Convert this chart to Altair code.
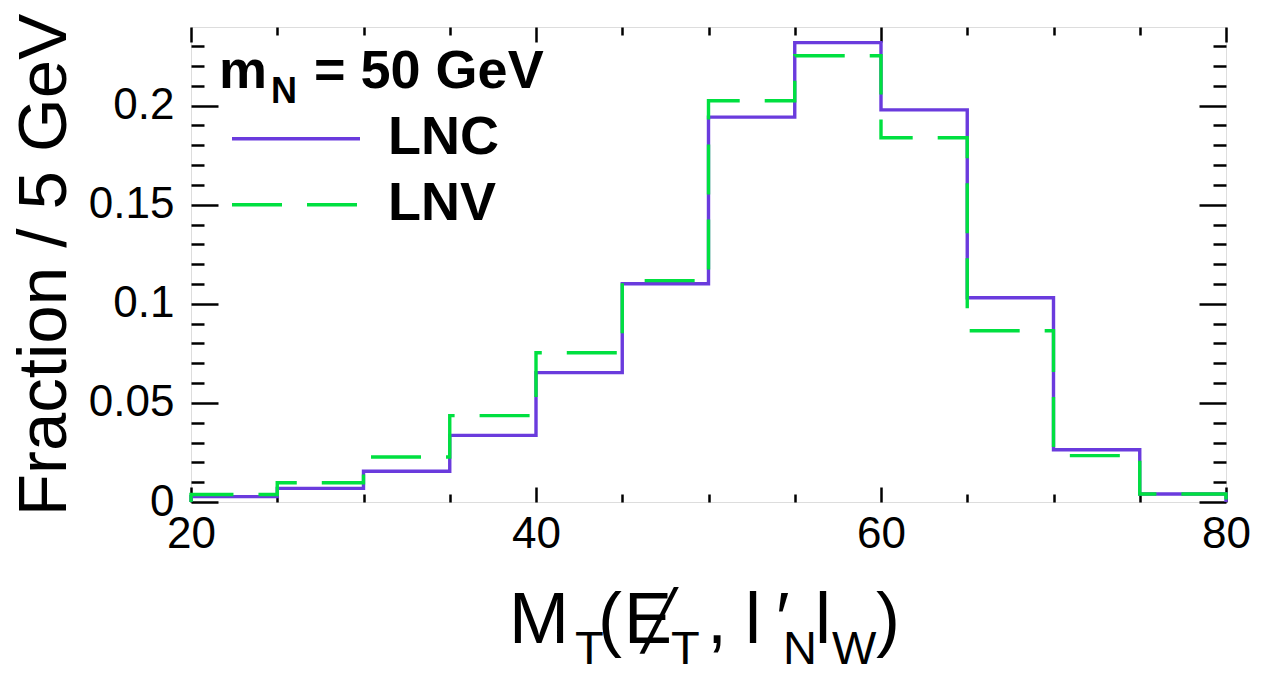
import altair as alt
import pandas as pd

# ---------------- data ----------------
bin_lo = [20, 25, 30, 35, 40, 45, 50, 55, 60, 65, 70, 75]
bin_width = 5
lnc = [0.0027, 0.0069, 0.0155, 0.0336, 0.0653, 0.1101, 0.1942, 0.2318, 0.1979, 0.1031, 0.0264, 0.0040]
lnv = [0.0038, 0.0097, 0.0227, 0.0436, 0.0753, 0.1117, 0.2025, 0.2252, 0.1838, 0.0864, 0.0234, 0.0040]

x_major = [20, 40, 60, 80]
x_minor = [25, 30, 35, 45, 50, 55, 65, 70, 75]
y_major = [0, 0.05, 0.1, 0.15, 0.2]
y_minor = [0.01, 0.02, 0.03, 0.04, 0.06, 0.07, 0.08, 0.09, 0.11, 0.12, 0.13, 0.14,
           0.16, 0.17, 0.18, 0.19, 0.21, 0.22, 0.23, 0.24]

x_domain = [20, 80]
y_domain = [0, 0.2397]

PURPLE = "#6a3bdd"
GREEN = "#00e040"
FONT = "Liberation Sans"


def step_rows(name, vals):
    rows = [{"series": name, "x": bin_lo[0], "y": 0.0}]
    for lo, v in zip(bin_lo, vals):
        rows.append({"series": name, "x": lo, "y": v})
        rows.append({"series": name, "x": lo + bin_width, "y": v})
    rows.append({"series": name, "x": bin_lo[-1] + bin_width, "y": 0.0})
    for i, r in enumerate(rows):
        r["order"] = i
    return rows


steps_lnc = pd.DataFrame(step_rows("LNC", lnc))
steps_lnv = pd.DataFrame(step_rows("LNV", lnv))
steps_all = pd.concat([steps_lnc, steps_lnv], ignore_index=True)

xscale = alt.Scale(domain=x_domain, nice=False, zero=False)
yscale = alt.Scale(domain=y_domain, nice=False, zero=False)

W, H = 1035, 475

# ---------------- histogram lines ----------------
main_axis_x = alt.Axis(orient="bottom", values=x_major, ticks=False, domain=False, grid=False,
                       title=None, labelFontSize=44, labelFont=FONT, labelColor="black",
                       labelPadding=10, labelFlush=False, labelOverlap=False)
main_axis_y = alt.Axis(orient="left", values=y_major, format="~g", ticks=False, domain=False,
                       grid=False, labelFontSize=44, labelFont=FONT, labelColor="black",
                       labelPadding=17, labelOverlap=False,
                       title="Fraction / 5 GeV", titleFontSize=69, titleFont=FONT,
                       titleFontWeight="normal", titleColor="black", titleAngle=270,
                       titleX=-126, titleY=237.5, titleAlign="center", titleBaseline="alphabetic")

line_lnc = alt.Chart(steps_lnc).mark_line(color=PURPLE, strokeWidth=3.4, strokeJoin="miter").encode(
    x=alt.X("x:Q", scale=xscale, axis=main_axis_x),
    y=alt.Y("y:Q", scale=yscale, axis=main_axis_y),
    order="order:Q",
)
line_lnv = alt.Chart(steps_lnv).mark_line(color=GREEN, strokeWidth=3.4, strokeDash=[50, 25],
                                          strokeJoin="miter").encode(
    x=alt.X("x:Q", scale=xscale, axis=None),
    y=alt.Y("y:Q", scale=yscale, axis=None),
    order="order:Q",
)


# ---------------- ROOT-style inward ticks ----------------
def tick_layer(xorient, yorient, xvals, yvals, xlen, ylen):
    ax = alt.Axis(orient=xorient, values=xvals, offset=-xlen, tickSize=xlen, tickWidth=2.5,
                  tickColor="black", labels=False, domain=False, grid=False, title=None)
    ay = alt.Axis(orient=yorient, values=yvals, offset=-ylen, tickSize=ylen, tickWidth=2.5,
                  tickColor="black", labels=False, domain=False, grid=False, title=None)
    return alt.Chart(steps_all).mark_point(opacity=0).encode(
        x=alt.X("x:Q", scale=xscale, axis=ax),
        y=alt.Y("y:Q", scale=yscale, axis=ay),
    )


ticks = [
    tick_layer("bottom", "left", x_major, y_major, 15, 27),
    tick_layer("bottom", "left", x_minor, y_minor, 8, 13),
    tick_layer("top", "right", x_major, y_major, 15, 27),
    tick_layer("top", "right", x_minor, y_minor, 8, 13),
]

one = pd.DataFrame({"k": [0]})


def txt(s, x, y, size, bold=False, font=FONT):
    return alt.Chart(one).mark_text(text=s, fontSize=size, font=font,
                                    fontWeight="bold" if bold else "normal",
                                    align="left", baseline="alphabetic", color="black").encode(
        x=alt.value(x), y=alt.value(y))


# ---------------- legend ----------------
legend_layers = [
    txt("m", 28, 61, 54, bold=True),
    txt("N", 80, 76, 36, bold=True),
    txt("= 50 GeV", 123, 61, 54, bold=True),
    alt.Chart(one).mark_rule(color=PURPLE, strokeWidth=3.4).encode(
        x=alt.value(41), x2=alt.value(169), y=alt.value(111.7)),
    alt.Chart(one).mark_rule(color=GREEN, strokeWidth=3.4, strokeDash=[50, 25]).encode(
        x=alt.value(41), x2=alt.value(166), y=alt.value(177.7)),
    txt("LNC", 197, 127, 54, bold=True),
    txt("LNV", 197, 193, 54, bold=True),
]

# ---------------- x-axis title  M_T(E/_T, l'_N l_W) ----------------
MB, SB = 616, 637
xtitle_layers = [
    txt("M", 318, MB, 72),
    txt("T", 384, SB, 47),
    txt("(", 407, MB, 72),
    txt("E", 433, MB, 72),
    txt("\u2571", 451, 613, 57, font="DejaVu Sans Mono"),
    txt("T", 480, SB, 47),
    txt(",", 516, MB, 72),
    txt("l", 554, MB, 72),
    txt("\u2032", 585, MB, 72),
    txt("N", 592, SB, 47),
    txt("l", 624, MB, 72),
    txt("W", 641, SB, 47),
    txt(")", 685, MB, 72),
]

chart = alt.layer(
    *ticks, line_lnc, line_lnv, *legend_layers, *xtitle_layers
).resolve_scale(
    x="independent", y="independent"
).resolve_axis(
    x="independent", y="independent"
).properties(
    width=W, height=H,
    autosize=alt.AutoSizeParams(type="none"),
    padding={"left": 183, "top": 19, "right": 42, "bottom": 172},
).configure_view(
    stroke="black", strokeWidth=2.5
).configure(
    font=FONT, background="white"
)

chart.save("out.html", embed_options={"renderer": "svg", "actions": False})
